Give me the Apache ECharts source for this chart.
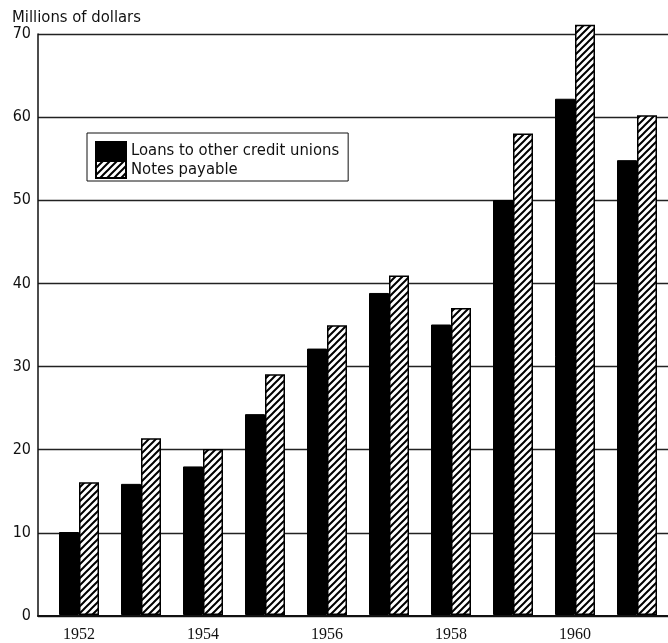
<!DOCTYPE html>
<html>
<head>
<meta charset="utf-8">
<script src="https://cdn.jsdelivr.net/npm/echarts@6/dist/echarts.min.js"></script>
<style>
    html, body { margin: 0; padding: 0; background: #fff; }
    #chart { width: 668px; height: 643px; }
</style>
</head>
<body>
<div id="chart"></div>
<script>
// data
const years = ['1952', '1953', '1954', '1955', '1956', '1957', '1958', '1959', '1960', '1961'];
const loans = [10, 15.8, 17.9, 24.2, 32.1, 38.8, 35, 50, 62.2, 54.8];
const notes = [16, 21.3, 20, 29, 34.9, 40.9, 37, 58, 71.1, 60.2];
const yTicks = [0, 10, 20, 30, 40, 50, 60, 70];

const sansFont = "'DejaVu Sans Condensed', 'Liberation Sans Narrow', 'DejaVu Sans', sans-serif";

// diagonal hatch pattern for notes payable
function makeHatch() {
    const c = document.createElement('canvas');
    c.width = 7;
    c.height = 7;
    const ctx = c.getContext('2d');
    ctx.fillStyle = '#fff';
    ctx.fillRect(0, 0, 7, 7);
    ctx.strokeStyle = '#000';
    ctx.lineWidth = 2;
    ctx.beginPath();
    ctx.moveTo(-1, 8); ctx.lineTo(8, -1);
    ctx.moveTo(-1, 1); ctx.lineTo(1, -1);
    ctx.moveTo(6, 8); ctx.lineTo(8, 6);
    ctx.stroke();
    return c;
}

function initChart() {
    const chartDom = document.getElementById('chart');
    const myChart = echarts.init(chartDom);

    const option = {
        backgroundColor: '#fff',
        animation: false,
        grid: [
            { left: 38, right: 0, top: 34, bottom: 27 },
            { left: 48, width: 626, top: 34, bottom: 27 }
        ],
        title: {
            text: 'Millions of dollars',
            left: 7,
            top: 4,
            textStyle: { fontFamily: sansFont, fontSize: 16.5, fontWeight: 'normal', color: '#111' }
        },
        legend: {
            orient: 'vertical',
            left: 87,
            top: 133,
            padding: [8, 9, 2, 8],
            icon: 'rect',
            itemWidth: 30,
            itemHeight: 17,
            itemGap: 0,
            borderColor: '#111',
            borderWidth: 1,
            textStyle: { fontFamily: sansFont, fontSize: 16.5, lineHeight: 17, color: '#111' },
            data: ['Loans to other credit unions', 'Notes payable']
        },
        xAxis: [
            {
                gridIndex: 0,
                type: 'value',
                min: 0,
                max: 1,
                axisLine: { show: true, onZero: false, lineStyle: { color: '#111', width: 2 } },
                axisTick: { show: false },
                axisLabel: { show: false },
                splitLine: { show: false }
            },
            {
                gridIndex: 1,
                type: 'category',
                data: years,
                axisLine: { show: false },
                axisTick: { show: false },
                axisLabel: {
                    interval: 1,
                    margin: 12,
                    fontFamily: "'Liberation Serif', serif",
                    fontSize: 16,
                    color: '#111'
                }
            }
        ],
        yAxis: [
            {
                gridIndex: 0,
                type: 'value',
                min: yTicks[0],
                max: yTicks[yTicks.length - 1],
                interval: 10,
                axisLine: { show: true, lineStyle: { color: '#111', width: 1.5 } },
                axisTick: { show: false },
                axisLabel: { margin: 7, fontFamily: sansFont, fontSize: 16, color: '#111' },
                splitLine: { lineStyle: { color: '#222', width: 1.3 } }
            },
            {
                gridIndex: 1,
                type: 'value',
                min: yTicks[0],
                max: yTicks[yTicks.length - 1],
                show: false,
                splitLine: { show: false }
            }
        ],
        series: [
            {
                name: 'Loans to other credit unions',
                type: 'bar',
                xAxisIndex: 1,
                yAxisIndex: 1,
                data: loans,
                barWidth: 20,
                barGap: '0%',
                clip: false,
                itemStyle: { color: '#000', borderColor: '#000', borderWidth: 1 }
            },
            {
                name: 'Notes payable',
                type: 'bar',
                xAxisIndex: 1,
                yAxisIndex: 1,
                data: notes,
                barWidth: 20,
                barGap: '0%',
                clip: false,
                itemStyle: {
                    color: { image: makeHatch(), repeat: 'repeat' },
                    borderColor: '#000',
                    borderWidth: 1.5
                }
            }
        ]
    };

    myChart.setOption(option);

    window.addEventListener('resize', () => {
        myChart.resize();
    });
}

document.addEventListener('DOMContentLoaded', initChart);
</script>
</body>
</html>
